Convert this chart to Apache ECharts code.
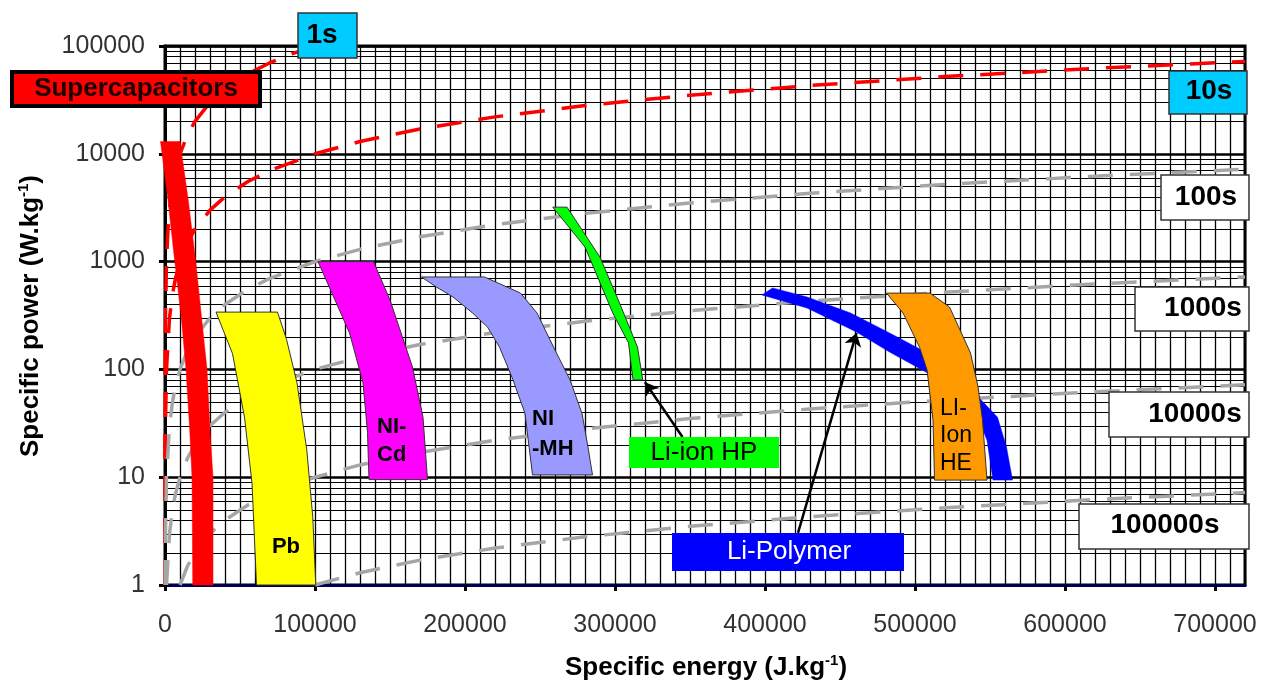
<!DOCTYPE html>
<html><head><meta charset="utf-8">
<script src="https://cdn.jsdelivr.net/npm/echarts@6/dist/echarts.min.js"></script>
<style>html,body{margin:0;padding:0;background:#fff}#c{width:1262px;height:684px}</style>
</head><body><div id="c"></div>
<script>
// ---- axis ticks ----
const X_MIN = 0, X_MAX = 720000, X_STEP = 100000;
const Y_MIN = 1, Y_MAX = 100000;
const Y_MINOR_MULT = [2,3,4,5,6,7,8,9];
const Y_DECADES = [1,10,100,1000,10000];

// ---- technology regions: [specific energy J/kg, specific power W/kg] ----
const SUPERCAP = [[-3000,13000],[2000,3700],[6500,1000],[11000,290],[14000,100],[16500,27],[18000,10],[18500,1],
  [32000,1],[32000,10],[30000,27],[28000,100],[24500,290],[20500,1000],[15500,3700],[10000,13000]];
const PB = [[34000,340],[75000,340],[81000,190],[88000,75],[94500,18],[98500,4.3],[100500,1],[61000,1],[58000,8.8],[53000,36],[45000,140]];
const NICD = [[102000,1000],[139000,1000],[150000,440],[165000,105],[172000,36],[175000,9.5],[136000,9.5],[135000,26],[132000,75],[123000,218]];
const NIMH = [[171000,720],[213000,720],[237000,510],[248000,334],[259000,161],[270000,80],[278000,39],[282000,19],[285000,10.5],
  [245000,10.5],[240000,39],[232000,80],[223000,161],[215000,247],[205000,334],[192000,470],[181000,580]];
const LI_HP = [[258500,3200],[268000,3200],[290000,1100],[303000,413],[315000,161],[318500,80],[312000,80],[309000,176],[298500,334],[280000,1365]];
const LI_POLY = [[398000,490],[405000,570],[428000,470],[457000,334],[483000,218],[507000,145],[527000,95],[543000,54],[555000,36],[561000,19],[565000,9.4],
  [552000,9.4],[548000,22],[540000,42],[527000,64],[507000,95],[483000,145],[461000,222],[428000,371]];
const LI_HE = [[481000,510],[510000,510],[523000,379],[537000,142],[542000,69],[545000,34],[548000,9.4],[513000,9.4],[512000,34],[508000,99],[503000,161],[492000,334]];

// ---- iso-discharge-time lines ----
const ISO_1S = [[1,1],[3,3],[10,10],[30,30],[100,100],[300,300],[1000,1000],[2000,2000],[3000,3000],[5000,5000],[7000,7000],[10000,10000],
  [15000,15000],[20000,20000],[30000,30000],[40000,40000],[55000,55000],[70000,70000],[85000,85000],[100000,100000],[110000,110000]];
const ISO_10S = [[10,1],[30,3],[100,10],[300,30],[1000,100],[3000,300],[5000,500],[7000,700],[10000,1000],[15000,1500],[20000,2000],[30000,3000],
  [40000,4000],[55000,5500],[70000,7000],[100000,10000],[130000,13000],[170000,17000],[220000,22000],[280000,28000],[350000,35000],
  [430000,43000],[520000,52000],[620000,62000],[720000,72000]];
const ISO_100S = [[100,1],[300,3],[1000,10],[3000,30],[5000,50],[7000,70],[10000,100],[15000,150],[20000,200],[30000,300],[40000,400],[55000,550],
  [70000,700],[100000,1000],[130000,1300],[170000,1700],[220000,2200],[280000,2800],[350000,3500],[430000,4300],[520000,5200],[620000,6200],[720000,7200]];
const ISO_1000S = [[1000,1],[3000,3],[5000,5],[7000,7],[10000,10],[15000,15],[20000,20],[30000,30],[40000,40],[55000,55],[70000,70],[100000,100],
  [130000,130],[170000,170],[220000,220],[280000,280],[350000,350],[430000,430],[520000,520],[620000,620],[720000,720]];
const ISO_10000S = [[10000,1],[15000,1.5],[20000,2],[30000,3],[40000,4],[55000,5.5],[70000,7],[100000,10],[130000,13],[170000,17],[220000,22],
  [280000,28],[350000,35],[430000,43],[520000,52],[620000,62],[720000,72]];
const ISO_100000S = [[100000,1],[130000,1.3],[170000,1.7],[220000,2.2],[280000,2.8],[350000,3.5],[430000,4.3],[520000,5.2],[620000,6.2],[720000,7.2]];

// ---- arrows ----
const ARROW_HP = [[345000,23.6],[320000,76]];
const ARROW_POLY = [[422000,3.04],[461000,218]];

const FONT = "'Liberation Sans', Arial, sans-serif";

const yMinor = [];
Y_DECADES.forEach(d => Y_MINOR_MULT.forEach(m => yMinor.push([X_MIN, d * m])));

function poly(name, pts, fill, stroke) {
  return {
    type: 'custom', name, z: 4, clip: false, silent: true,
    data: [pts[0]],
    renderItem: (p, api) => ({
      type: 'polygon',
      shape: { points: pts.map(q => api.coord(q)) },
      style: { fill: fill, stroke: stroke || fill, lineWidth: stroke ? 1 : 0.5 }
    })
  };
}
function iso(name, pts, color) {
  return {
    type: 'line', name, z: 3, data: pts, showSymbol: false, symbol: 'none', silent: true,
    lineStyle: { color: color, width: 3.5, type: [25, 17], cap: 'butt' }
  };
}
function arrow(pts) {
  return {
    type: 'lines', coordinateSystem: 'cartesian2d', z: 5, silent: true,
    symbol: ['none', 'arrow'], symbolSize: 13,
    lineStyle: { color: '#000', width: 2.5, opacity: 1 },
    data: [{ coords: pts }]
  };
}
function box(x, y, w, h, fill, stroke, lw) {
  return { type: 'rect', z: 50, shape: { x, y, width: w, height: h },
    style: { fill, stroke: stroke || null, lineWidth: lw || 0 } };
}
function txt(text, x, y, size, weight, color, align, lh) {
  return { type: 'text', z: 51, x, y,
    style: { text, fill: color || '#000', font: `${weight} ${size}px ${FONT}`,
      align: align || 'center', verticalAlign: 'middle', lineHeight: lh || size } };
}

const chart = echarts.init(document.getElementById('c'), null, { renderer: 'canvas' });
chart.setOption({
  animation: false,
  backgroundColor: '#fff',
  grid: { left: 165, right: 17, top: 46, bottom: 99, show: true, borderColor: '#000', borderWidth: 3, backgroundColor: 'transparent' },
  xAxis: {
    type: 'value', min: X_MIN, max: X_MAX, interval: X_STEP,
    axisLine: { show: true, onZero: false, lineStyle: { color: '#000050', width: 3 } },
    axisTick: { show: true, length: 6, lineStyle: { color: '#000', width: 3 } },
    axisLabel: { fontSize: 25, color: '#333', margin: 28, fontFamily: FONT, showMaxLabel: false, formatter: v => String(Math.round(v)) },
    splitLine: { show: true, lineStyle: { color: '#000', width: 1.3 } },
    minorTick: { show: false, splitNumber: 10 },
    minorSplitLine: { show: true, lineStyle: { color: '#000', width: 1.3 } }
  },
  yAxis: {
    type: 'log', logBase: 10, min: Y_MIN, max: Y_MAX,
    axisLine: { show: true, lineStyle: { color: '#000', width: 3 } },
    axisTick: { show: true, length: 6, lineStyle: { color: '#000', width: 3 } },
    axisLabel: { fontSize: 25, color: '#333', margin: 20, fontFamily: FONT, formatter: v => String(Math.round(v)) },
    splitLine: { show: true, lineStyle: { color: '#000', width: 2.5 } }
  },
  series: [
    {
      type: 'custom', name: 'minor', z: 1, silent: true, clip: false, data: yMinor,
      renderItem: (p, api) => {
        const v = api.value(1);
        const a = api.coord([X_MIN, v]);
        const b = api.coord([X_MAX, v]);
        const yy = Math.round(a[1]) + 0.5;
        return { type: 'line', shape: { x1: a[0], y1: yy, x2: b[0], y2: yy }, style: { stroke: '#000', lineWidth: 1 } };
      }
    },
    iso('1s', ISO_1S, '#ff0000'),
    iso('10s', ISO_10S, '#ff0000'),
    iso('100s', ISO_100S, '#a6a6a6'),
    iso('1000s', ISO_1000S, '#a6a6a6'),
    iso('10000s', ISO_10000S, '#a6a6a6'),
    iso('100000s', ISO_100000S, '#a6a6a6'),
    poly('Supercapacitors', SUPERCAP, '#ff0000'),
    poly('Pb', PB, '#ffff00', '#333'),
    poly('Ni-Cd', NICD, '#ff00ff', '#333'),
    poly('Ni-MH', NIMH, '#9999ff', '#333'),
    poly('Li-ion HP', LI_HP, '#00ff00', '#333'),
    poly('Li-Polymer', LI_POLY, '#0000ff'),
    poly('Li-ion HE', LI_HE, '#ff9900', '#333'),
    arrow(ARROW_HP),
    arrow(ARROW_POLY)
  ],
  graphic: { elements: [
    box(12, 72, 248, 34, '#ff0000', '#000', 4),
    txt('Supercapacitors', 136, 89, 26, 'bold', '#1a0000'),
    box(298, 13, 59, 45, '#00ccff', '#333', 1.5),
    txt('1s', 322, 35, 28, 'bold', '#000'),
    box(1169, 71, 78, 43, '#00ccff', '#333', 1.5),
    txt('10s', 1209, 91, 28, 'bold', '#000'),
    box(1161, 175, 88, 45, '#fff', '#333', 1.5),
    txt('100s', 1206, 197, 28, 'bold', '#000'),
    box(1135, 287, 114, 44, '#fff', '#333', 1.5),
    txt('1000s', 1203, 308, 28, 'bold', '#000'),
    box(1109, 392, 140, 45, '#fff', '#333', 1.5),
    txt('10000s', 1195, 414, 28, 'bold', '#000'),
    box(1079, 504, 170, 45, '#fff', '#333', 1.5),
    txt('100000s', 1165, 525, 28, 'bold', '#000'),
    box(629, 437, 150, 31, '#00ff00'),
    txt('Li-ion HP', 704, 453, 26, 'normal', '#000'),
    box(672, 533, 232, 38, '#0000ff'),
    txt('Li-Polymer', 789, 552, 26, 'normal', '#fff'),
    txt('Pb', 286, 547, 22, 'bold', '#000'),
    txt('NI-\nCd', 377, 441, 22, 'bold', '#000', 'left', 28),
    txt('NI\n-MH', 532, 434, 22, 'bold', '#000', 'left', 30),
    txt('LI-\nIon\nHE', 940, 436, 23, 'normal', '#000', 'left', 27.5),
    { type: 'text', z: 51, x: 706, y: 668,
      style: { text: 'Specific energy (J.kg{s|-1})', fill: '#000', font: `bold 26px ${FONT}`, align: 'center', verticalAlign: 'middle',
        rich: { s: { font: `bold 15px ${FONT}`, fill: '#000', verticalAlign: 'top', lineHeight: 30 } } } },
    { type: 'text', z: 51, x: 31, y: 316, rotation: Math.PI / 2,
      style: { text: 'Specific power (W.kg{s|-1})', fill: '#000', font: `bold 26px ${FONT}`, align: 'center', verticalAlign: 'middle',
        rich: { s: { font: `bold 15px ${FONT}`, fill: '#000', verticalAlign: 'top', lineHeight: 30 } } } }
  ] }
});
</script></body></html>
